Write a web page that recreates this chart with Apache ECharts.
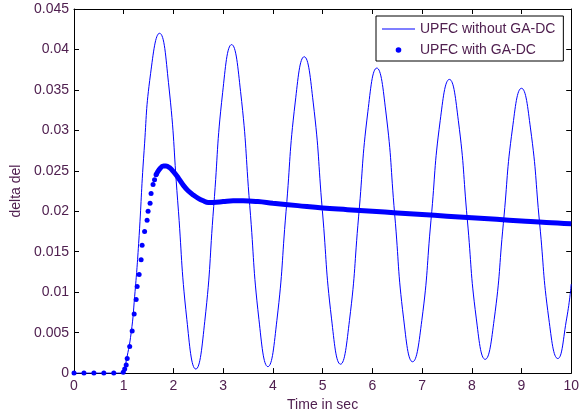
<!DOCTYPE html>
<html>
<head>
<meta charset="utf-8">
<script src="https://cdn.jsdelivr.net/npm/echarts@6/dist/echarts.min.js"></script>
<style>
  html, body { margin: 0; padding: 0; background: #fff; }
  #chart { width: 582px; height: 417px; }
</style>
</head>
<body>
<div id="chart"></div>
<script>
// UPFC without GA-DC (solid line)
const lineTime = [0, 0.99, 1.05, 1.15, 1.22, 1.30, 1.41, 1.54, 1.72, 1.90, 2.085, 2.27, 2.45, 2.63, 2.81, 2.99, 3.17, 3.35, 3.535, 3.72, 3.90, 4.08, 4.265, 4.45, 4.63, 4.81, 4.995, 5.18, 5.36, 5.54, 5.725, 5.91, 6.09, 6.27, 6.45, 6.63, 6.81, 6.995, 7.18, 7.365, 7.55, 7.73, 7.91, 8.09, 8.27, 8.45, 8.635, 8.82, 9.00, 9.18, 9.365, 9.55, 9.73, 9.91, 10.0];
const lineVal = [0, 0, 0.0015, 0.005, 0.0095, 0.016, 0.0275, 0.037, 0.0420, 0.0359, 0.0213, 0.0066, 0.0005, 0.0064, 0.0206, 0.0347, 0.0406, 0.0348, 0.0207, 0.0066, 0.0008, 0.0065, 0.0200, 0.0335, 0.0391, 0.0335, 0.0201, 0.0067, 0.0011, 0.0065, 0.0194, 0.0323, 0.0377, 0.0324, 0.0196, 0.0067, 0.0014, 0.0065, 0.0189, 0.0312, 0.0363, 0.0312, 0.0190, 0.0068, 0.0017, 0.0066, 0.0185, 0.0303, 0.0352, 0.0303, 0.0185, 0.0067, 0.0018, 0.0068, 0.0110];

// UPFC with GA-DC: sparse dots during the rise
const riseTime = [0, 0.2, 0.4, 0.6, 0.8, 0.99, 1.02, 1.05, 1.07, 1.12, 1.17, 1.21, 1.25, 1.27, 1.31, 1.35, 1.37, 1.42, 1.47, 1.49, 1.53, 1.55, 1.59, 1.62, 1.65];
const riseVal = [0, 0, 0, 0, 0, 0.0001, 0.0005, 0.001, 0.0018, 0.0033, 0.0052, 0.0073, 0.0091, 0.0107, 0.0122, 0.014, 0.0158, 0.0175, 0.0189, 0.02, 0.021, 0.0222, 0.0233, 0.0239, 0.0245];
// ...then dots so dense they merge into a thick line
const denseTime = [1.65, 1.72, 1.80, 1.85, 1.92, 2.0, 2.1, 2.2, 2.3, 2.4, 2.5, 2.6, 2.7, 2.8, 3.0, 3.2, 3.4, 3.7, 4.0, 4.5, 5.0, 5.5, 6.0, 6.5, 7.0, 7.5, 8.0, 8.5, 9.0, 9.5, 10.0];
const denseVal = [0.0245, 0.0252, 0.0256, 0.0256, 0.0254, 0.0249, 0.0241, 0.0232, 0.0225, 0.0220, 0.0216, 0.0213, 0.0211, 0.0211, 0.0212, 0.0213, 0.0213, 0.0212, 0.0210, 0.0207, 0.0204, 0.0202, 0.0200, 0.0198, 0.0196, 0.0194, 0.0192, 0.0190, 0.0188, 0.0186, 0.01845];

const xTicks = [0, 1, 2, 3, 4, 5, 6, 7, 8, 9, 10];
const yTicks = ['0', '0.005', '0.01', '0.015', '0.02', '0.025', '0.03', '0.035', '0.04', '0.045'];

const pair = (t, v) => t.map((x, i) => [x, v[i]]);
const txt = '#502050';
const font = 'Liberation Sans';

const chart = echarts.init(document.getElementById('chart'), null, { renderer: 'canvas' });

const xBase = {
  type: 'value', min: 0, max: 10, interval: 1,
  axisLine: { show: true, onZero: false, lineStyle: { color: '#000', width: 1 } },
  axisTick: { show: true, inside: true, length: 5, lineStyle: { color: '#000' } },
  splitLine: { show: false }
};
const yBase = {
  type: 'value', min: 0, max: 0.045, interval: 0.005,
  axisLine: { show: true, onZero: false, lineStyle: { color: '#000', width: 1 } },
  axisTick: { show: true, inside: true, length: 5, lineStyle: { color: '#000' } },
  splitLine: { show: false }
};

chart.setOption({
  animation: false,
  backgroundColor: '#fff',
  grid: { left: 74, right: 9, top: 9, bottom: 39 },
  xAxis: [
    Object.assign({}, xBase, {
      position: 'bottom',
      name: 'Time in sec', nameLocation: 'middle', nameGap: 20,
      nameTextStyle: { color: txt, fontFamily: font, fontSize: 14 },
      axisLabel: { color: txt, fontFamily: font, fontSize: 14, margin: 6,
        formatter: v => String(xTicks[Math.round(v)]) }
    }),
    Object.assign({}, xBase, { position: 'top', axisLabel: { show: false } })
  ],
  yAxis: [
    Object.assign({}, yBase, {
      position: 'left',
      name: 'delta del', nameLocation: 'middle', nameGap: 44, nameRotate: 90,
      nameTextStyle: { color: txt, fontFamily: font, fontSize: 14 },
      axisLabel: { color: txt, fontFamily: font, fontSize: 14, margin: 5,
        formatter: v => yTicks[Math.round(v / 0.005)] }
    }),
    Object.assign({}, yBase, { position: 'right', axisLabel: { show: false } })
  ],
  legend: {
    orient: 'vertical', left: 376, top: 16,
    padding: [5, 8, 3, 6],
    itemWidth: 33, itemHeight: 7, itemGap: 5,
    backgroundColor: '#fff', borderColor: '#000', borderWidth: 1,
    textStyle: { color: txt, fontFamily: font, fontSize: 14, lineHeight: 16 },
    data: [
      { name: 'UPFC without GA-DC', icon: 'path://M0,0 L33,0 L33,1 L0,1 Z' },
      { name: 'UPFC with GA-DC' }
    ]
  },
  series: [
    {
      name: 'UPFC without GA-DC', type: 'line',
      data: pair(lineTime, lineVal),
      smooth: 0.5, symbol: 'none',
      lineStyle: { color: '#0000ff', width: 1 },
      itemStyle: { color: '#0000ff' }
    },
    {
      name: 'UPFC with GA-DC', type: 'line',
      data: pair(riseTime, riseVal),
      symbol: 'circle', symbolSize: 5, showSymbol: true,
      lineStyle: { width: 0, color: '#0000ff' },
      itemStyle: { color: '#0000ff' }
    },
    {
      name: 'UPFC with GA-DC', type: 'line',
      data: pair(denseTime, denseVal),
      smooth: 0.4, symbol: 'none',
      lineStyle: { color: '#0000ff', width: 5 },
      itemStyle: { color: '#0000ff' }
    }
  ]
});
</script>
</body>
</html>
